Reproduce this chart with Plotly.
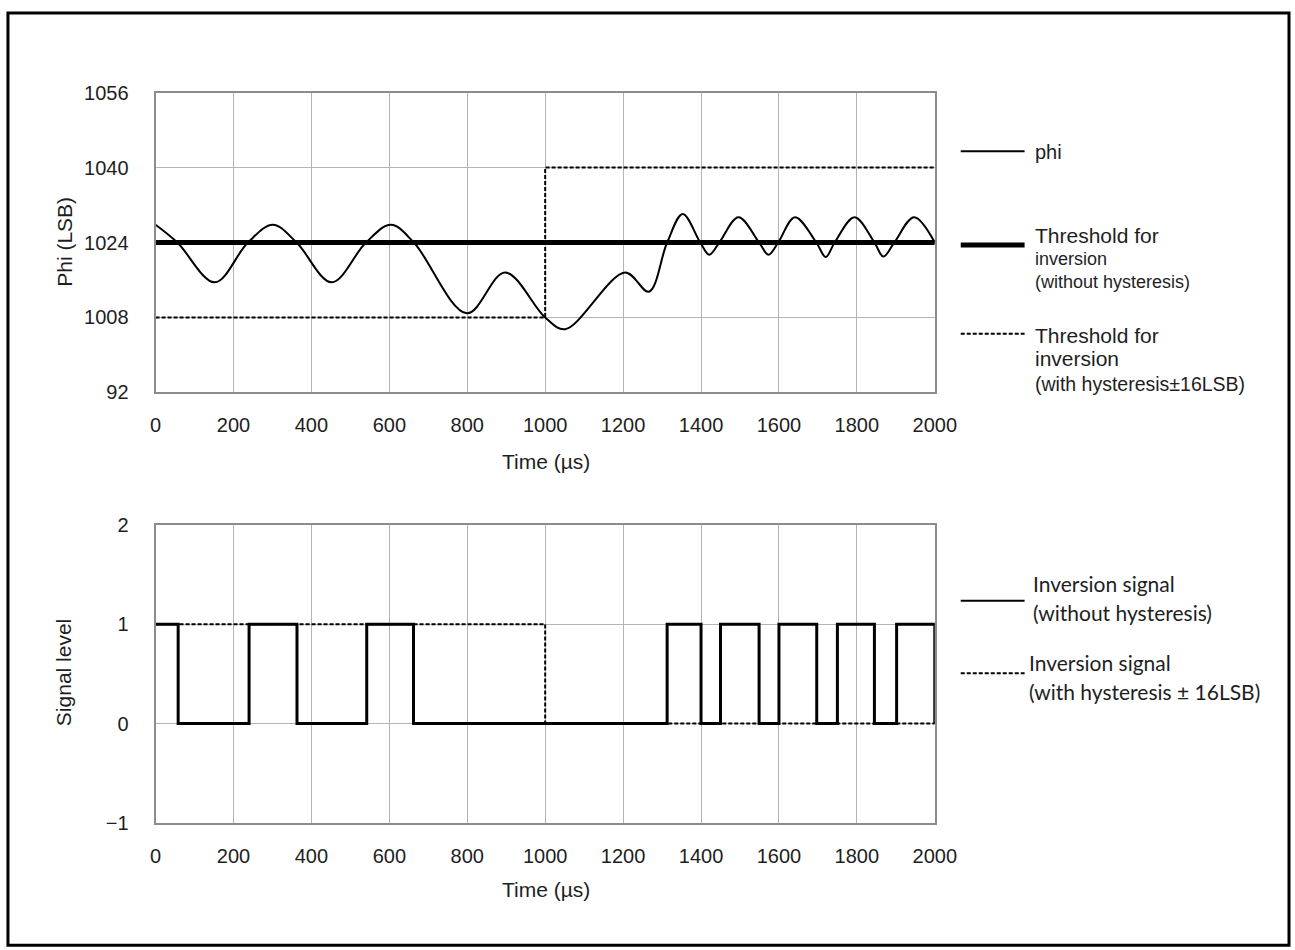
import plotly.graph_objects as go

W, H = 1320, 968

# ---------------- data ----------------
phi_t = [0, 56, 152, 237, 301, 362, 452, 540, 604, 663, 799, 897, 1000, 1051,
         1205, 1266, 1313, 1353, 1398, 1421, 1447, 1496, 1549, 1573, 1598, 1641,
         1696, 1720, 1743, 1794, 1845, 1868, 1896, 1947, 2000]
phi_v = [1027.8, 1024, 1015.5, 1024, 1027.8, 1024, 1015.5, 1024, 1027.8, 1024,
         1008.9, 1017.6, 1008, 1005.5, 1017.6, 1013.5, 1024, 1030.1, 1024, 1021.4,
         1024, 1029.4, 1024, 1021.4, 1024, 1029.4, 1024, 1020.9, 1024, 1029.4,
         1024, 1021.0, 1024, 1029.4, 1024]

thr_t = [0, 2000]
thr_v = [1024, 1024]

hys_thr_t = [0, 1000, 2000]
hys_thr_v = [1008, 1040, 1040]

sig_t = [0, 58, 240, 363, 542, 662, 1313, 1400, 1450, 1549, 1600, 1697, 1750,
         1845, 1902, 2000]
sig_v = [1, 0, 1, 0, 1, 0, 1, 0, 1, 0, 1, 0, 1, 0, 1, 0]

hys_sig_t = [0, 1000, 2000]
hys_sig_v = [1, 0, 0]

x_ticks = [0, 200, 400, 600, 800, 1000, 1200, 1400, 1600, 1800, 2000]
top_y_ticks = [992, 1008, 1024, 1040, 1056]
top_y_text = ["92", "1008", "1024", "1040", "1056"]
bot_y_ticks = [-1, 0, 1, 2]
bot_y_text = ["\u22121", "0", "1", "2"]

# ---------------- layout helpers ----------------
S, OX, OY = 0.981, 4.1, 8.1   # compensation for how the page is photographed


def px_x(t):
    return ((t - OX) / S) / W


def px_y(t):
    return 1 - ((t - OY) / S) / H


PL, PR = 154, 935
TOP_T, TOP_B = 90, 391
BOT_T, BOT_B = 524, 823

FONT = "Liberation Sans, Arial, sans-serif"
FONT2 = "Lato, Carlito, Calibri, sans-serif"
TXT = "#1e1e1e"
DOT = "4px,2px"

fig = go.Figure()

# top plot traces
fig.add_trace(go.Scatter(x=hys_thr_t, y=hys_thr_v, mode="lines", line_shape="hv",
                         line=dict(color="black", width=2, dash=DOT),
                         xaxis="x", yaxis="y", showlegend=False))
fig.add_trace(go.Scatter(x=thr_t, y=thr_v, mode="lines",
                         line=dict(color="black", width=5),
                         xaxis="x", yaxis="y", showlegend=False))
fig.add_trace(go.Scatter(x=phi_t, y=phi_v, mode="lines", line_shape="spline",
                         line=dict(color="black", width=2, smoothing=1.0),
                         xaxis="x", yaxis="y", showlegend=False))

# bottom plot traces
fig.add_trace(go.Scatter(x=hys_sig_t, y=hys_sig_v, mode="lines", line_shape="hv",
                         line=dict(color="black", width=2, dash=DOT),
                         xaxis="x2", yaxis="y2", showlegend=False))
fig.add_trace(go.Scatter(x=sig_t, y=sig_v, mode="lines", line_shape="hv",
                         line=dict(color="black", width=3),
                         xaxis="x2", yaxis="y2", showlegend=False))

axis_common = dict(showgrid=True, gridcolor="#b4b4b4", gridwidth=1,
                   showline=True, linecolor="#8c8c8c", linewidth=2, mirror=True,
                   zeroline=False, ticks="",
                   tickfont=dict(family=FONT, size=20, color=TXT))

fig.update_layout(
    width=W, height=H,
    margin=dict(l=0, r=0, t=0, b=0),
    paper_bgcolor="white", plot_bgcolor="white",
    xaxis=dict(domain=[px_x(PL), px_x(PR)], anchor="y", range=[0, 2000],
               tickvals=x_ticks, ticklabelstandoff=14, **axis_common),
    yaxis=dict(domain=[px_y(TOP_B), px_y(TOP_T)], anchor="x", range=[992, 1056],
               tickvals=top_y_ticks, ticktext=top_y_text, ticklabelstandoff=21,
               **axis_common),
    xaxis2=dict(domain=[px_x(PL), px_x(PR)], anchor="y2", range=[0, 2000],
                tickvals=x_ticks, ticklabelstandoff=14, **axis_common),
    yaxis2=dict(domain=[px_y(BOT_B), px_y(BOT_T)], anchor="x2", range=[-1, 2],
                tickvals=bot_y_ticks, ticktext=bot_y_text, ticklabelstandoff=21,
                **axis_common),
)

ann = []


def add_text(x, y, text, size, family=FONT, angle=0, xanchor="left"):
    ann.append(dict(x=px_x(x), y=px_y(y), xref="paper", yref="paper", text=text,
                    showarrow=False, xanchor=xanchor, yanchor="middle",
                    textangle=angle, font=dict(family=family, size=size, color=TXT)))


# axis titles
add_text(545, 460, "Time (\u00b5s)", 21, xanchor="center")
add_text(545, 890, "Time (\u00b5s)", 21, xanchor="center")
add_text(62, 240, "Phi (LSB)", 21, angle=-90, xanchor="center")
add_text(62, 672, "Signal level", 21, angle=-90, xanchor="center")

# top legend texts
add_text(1033, 150, "phi", 20)
add_text(1033, 233, "Threshold for", 21)
add_text(1033, 257, "inversion", 18)
add_text(1033, 280, "(without hysteresis)", 18)
add_text(1033, 334, "Threshold for", 21)
add_text(1033, 357, "inversion", 21)
add_text(1033, 383, "(with hysteresis\u00b116LSB)", 19.5)

# bottom legend texts
add_text(1031, 583, "Inversion signal", 21, family=FONT2)
add_text(1031, 612, "(without hysteresis)", 21, family=FONT2)
add_text(1027, 662, "Inversion signal", 21, family=FONT2)
add_text(1027, 691, "(with hysteresis \u00b1 16LSB)", 21, family=FONT2)

shapes = []


def legend_line(x0, x1, y, width, dash=None):
    shapes.append(dict(type="line", xref="paper", yref="paper",
                       x0=px_x(x0), x1=px_x(x1), y0=px_y(y), y1=px_y(y),
                       line=dict(color="black", width=width, dash=dash)))


legend_line(961, 1025, 149, 2)
legend_line(961, 1025, 243, 5)
legend_line(961, 1025, 332, 2, DOT)
legend_line(961, 1025, 600, 2)
legend_line(961, 1025, 673, 2, DOT)

# outer frame
shapes.append(dict(type="rect", xref="paper", yref="paper",
                   x0=2 / W, x1=px_x(1290), y0=px_y(946), y1=1 - 2 / H,
                   line=dict(color="black", width=3)))

fig.update_layout(annotations=ann, shapes=shapes)

fig.write_html("out.html", config={"displayModeBar": False},
               post_script="document.body.style.margin='0';document.body.style.overflow='hidden';")
